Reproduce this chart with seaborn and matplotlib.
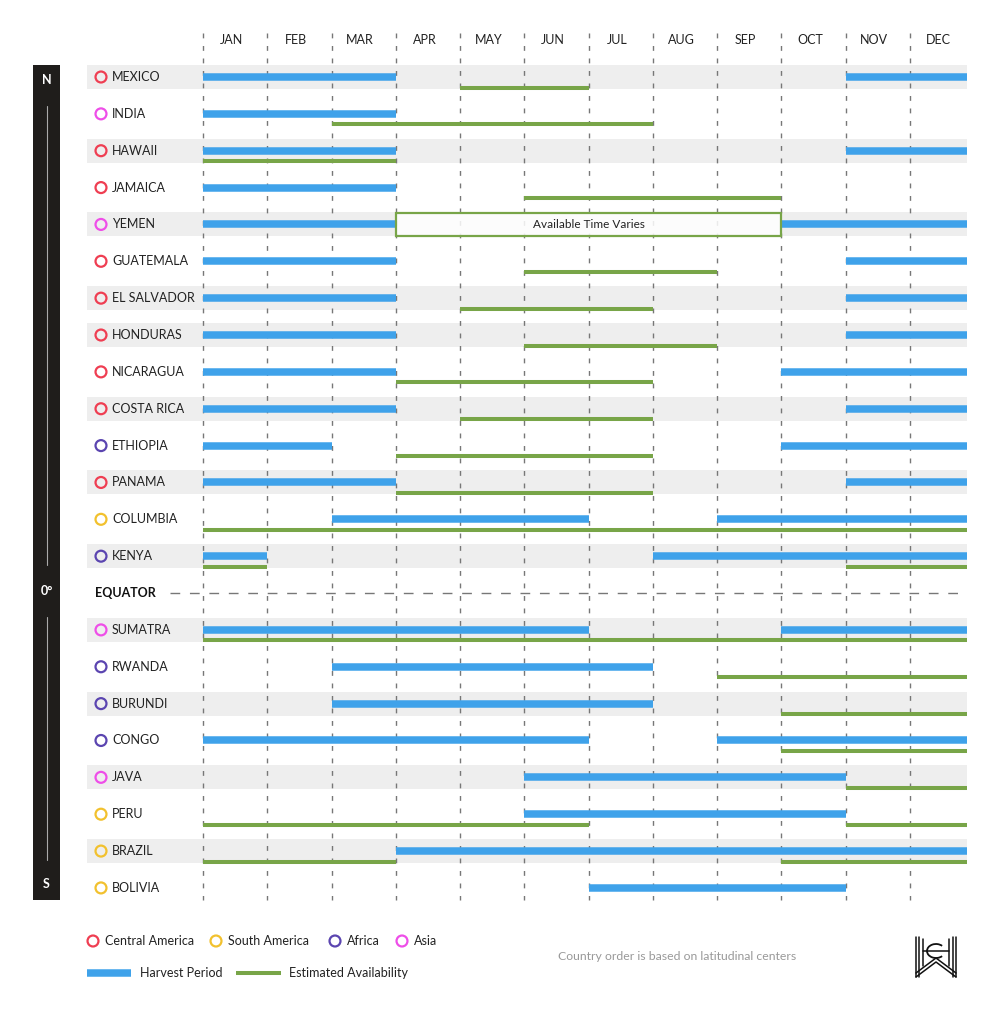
import numpy as np
import pandas as pd
import matplotlib
matplotlib.use("Agg")
import matplotlib.pyplot as plt
import seaborn as sns
from matplotlib.patches import Rectangle, Arc

# ---------------- data ----------------
months = ["JAN", "FEB", "MAR", "APR", "MAY", "JUN", "JUL", "AUG", "SEP", "OCT", "NOV", "DEC"]

north_countries = ["MEXICO", "INDIA", "HAWAII", "JAMAICA", "YEMEN", "GUATEMALA", "EL SALVADOR",
                   "HONDURAS", "NICARAGUA", "COSTA RICA", "ETHIOPIA", "PANAMA", "COLUMBIA", "KENYA"]
south_countries = ["SUMATRA", "RWANDA", "BURUNDI", "CONGO", "JAVA", "PERU", "BRAZIL", "BOLIVIA"]

north_regions = ["Central America", "Asia", "Central America", "Central America", "Asia",
                 "Central America", "Central America", "Central America", "Central America",
                 "Central America", "Africa", "Central America", "South America", "Africa"]
south_regions = ["Asia", "Africa", "Africa", "Africa", "Asia", "South America", "South America",
                 "South America"]

# harvest periods (start month index, end month index), months counted from Jan = 0
north_harvest = [[(0, 3), (10, 12)], [(0, 3)], [(0, 3), (10, 12)], [(0, 3)], [(0, 3), (9, 12)],
                 [(0, 3), (10, 12)], [(0, 3), (10, 12)], [(0, 3), (10, 12)], [(0, 3), (9, 12)],
                 [(0, 3), (10, 12)], [(0, 2), (9, 12)], [(0, 3), (10, 12)], [(2, 6), (8, 12)],
                 [(0, 1), (7, 12)]]
south_harvest = [[(0, 6), (9, 12)], [(2, 7)], [(2, 7)], [(0, 6), (8, 12)], [(5, 10)], [(5, 10)],
                 [(3, 12)], [(6, 10)]]

north_avail = [[(4, 6)], [(2, 7)], [(0, 3)], [(5, 9)], [], [(5, 8)], [(4, 7)], [(5, 8)], [(3, 7)],
               [(4, 7)], [(3, 7)], [(3, 7)], [(0, 12)], [(0, 1), (10, 12)]]
south_avail = [[(0, 12)], [(8, 12)], [(9, 12)], [(9, 12)], [(10, 12)], [(0, 6), (10, 12)],
               [(0, 3), (9, 12)], []]

varies_country = "YEMEN"
varies_period = (3, 9)
varies_text = "Available Time Varies"

grey_rows = ["MEXICO", "HAWAII", "YEMEN", "EL SALVADOR", "HONDURAS", "COSTA RICA", "PANAMA",
             "KENYA", "SUMATRA", "BURUNDI", "JAVA", "BRAZIL"]

region_colors = {"Central America": "#ef3e52", "South America": "#f2c12e",
                 "Africa": "#5b45b0", "Asia": "#ee4ee8"}
region_order = ["Central America", "South America", "Africa", "Asia"]
harvest_color = "#3fa2ea"
avail_color = "#78a548"

# ---------------- layout helpers ----------------
W, H = 1000, 1015
PX_M = 64.27     # pixels per month
X0 = 203         # pixel of Jan start
PX_R = 36.86     # pixels per row
Y0 = 77          # pixel of first row

rows = []
for i, c in enumerate(north_countries):
    rows.append((c, north_regions[i], north_harvest[i], north_avail[i], i))
eq_row = len(north_countries)
for j, c in enumerate(south_countries):
    rows.append((c, south_regions[j], south_harvest[j], south_avail[j], eq_row + 1 + j))

df = pd.DataFrame({"country": [r[0] for r in rows], "region": [r[1] for r in rows],
                   "row": [r[4] for r in rows]})

sns.set_theme(style="white")
plt.rcParams["font.family"] = ["Lato", "DejaVu Sans"]

fig = plt.figure(figsize=(W / 100, H / 100), dpi=100)
fig.patch.set_facecolor("white")

# background axes in pixel coordinates (decor)
bg = fig.add_axes([0, 0, 1, 1], zorder=0)
bg.set_xlim(0, W)
bg.set_ylim(H, 0)
bg.axis("off")

# main axes
ax_l, ax_r, ax_t, ax_b = 87, 967, 25, 905
ax = fig.add_axes([ax_l / W, 1 - ax_b / H, (ax_r - ax_l) / W, (ax_b - ax_t) / H], zorder=1)
ax.patch.set_alpha(0)

band_h = 24 / PX_R
off_green = 10.5 / PX_R
xl = (ax_l - X0) / PX_M

# grey bands
for _, r in df.iterrows():
    if r["country"] in grey_rows:
        ax.add_patch(Rectangle((xl, r["row"] - band_h / 2), 20, band_h,
                               facecolor="#eeeeee", edgecolor="none", zorder=0))

# month dashed separators
y_top = (33 - Y0) / PX_R
y_bot = (900 - Y0) / PX_R
for m in range(12):
    ax.plot([m, m], [y_top, y_bot], color="#777777", lw=1.0,
            linestyle=(0, (3.5, 5.5)), zorder=1)
    ax.text(m + 0.5 - 3.5 / PX_M, (40 - Y0) / PX_R, months[m], ha="center", va="center",
            fontsize=9, color="#222222")

# bars
for c, reg, hv, av, ri in rows:
    for s, e in hv:
        ax.hlines(ri, s, e, color=harvest_color, lw=5.4, zorder=3, capstyle="butt")
    for s, e in av:
        ax.hlines(ri + off_green, s, e, color=avail_color, lw=2.9, zorder=3, capstyle="butt")
    if c == varies_country:
        s, e = varies_period
        ax.add_patch(Rectangle((s, ri - 11.5 / PX_R), e - s, 23 / PX_R, facecolor="white",
                               alpha=0.85, edgecolor="none", zorder=4))
        ax.add_patch(Rectangle((s, ri - 11.5 / PX_R), e - s, 23 / PX_R, facecolor="none",
                               edgecolor=avail_color, lw=1.6, zorder=5))
        ax.text((s + e) / 2, ri, varies_text, ha="center", va="center", fontsize=8.5,
                color="#222222", zorder=6)

# country labels + circles
for _, r in df.iterrows():
    ax.text((112 - X0) / PX_M, r["row"], r["country"], ha="left", va="center",
            fontsize=9, color="#222222")
df["cx"] = (101 - X0) / PX_M
sns.scatterplot(data=df, x="cx", y="row", hue="region", palette=region_colors,
                s=62, linewidth=1.6, legend=False, ax=ax, zorder=4)
pts = ax.collections[-1]
fc = pts.get_facecolors()
pts.set_edgecolors(fc)
pts.set_facecolors("none")
ax.set_xlim((ax_l - X0) / PX_M, (ax_r - X0) / PX_M)
ax.set_ylim((ax_b - Y0) / PX_R, (ax_t - Y0) / PX_R)
ax.axis("off")

# equator
ax.text((95 - X0) / PX_M, eq_row, "EQUATOR", ha="left", va="center", fontsize=9,
        fontweight="bold", color="#111111")
ax.plot([(170 - X0) / PX_M, (960 - X0) / PX_M], [eq_row, eq_row], color="#777777",
        lw=1.0, linestyle=(0, (7, 7)), zorder=2)

# latitude bar
bg.add_patch(Rectangle((33, 65), 27, 835, facecolor="#1f1d1b", edgecolor="none"))
bg.plot([46.5, 46.5], [106, 565], color="#aaaaaa", lw=0.8)
bg.plot([46.5, 46.5], [617, 860], color="#aaaaaa", lw=0.8)
bg.text(46.5, 80, "N", color="white", ha="center", va="center", fontsize=9, fontweight="bold")
bg.text(46.5, 591, "0°", color="white", ha="center", va="center", fontsize=9, fontweight="bold")
bg.text(46.5, 884, "S", color="white", ha="center", va="center", fontsize=9, fontweight="bold")

# legend row 1
leg_x = [93, 216, 335, 402]
for x, reg in zip(leg_x, region_order):
    bg.scatter([x], [941], s=62, facecolors="none", edgecolors=region_colors[reg], linewidths=1.6)
    bg.text(x + 12, 941, reg, ha="left", va="center", fontsize=9, color="#222222")
# legend row 2
bg.plot([87, 131], [973, 973], color=harvest_color, lw=5.4, solid_capstyle="butt")
bg.text(140, 973, "Harvest Period", ha="left", va="center", fontsize=9, color="#222222")
bg.plot([236, 281], [973, 973], color=avail_color, lw=2.9, solid_capstyle="butt")
bg.text(289, 973, "Estimated Availability", ha="left", va="center", fontsize=9, color="#222222")

bg.text(677, 957, "Country order is based on latitudinal centers", ha="center", va="center",
        fontsize=8.8, color="#999999")

# logo
lk = dict(color="#111111", lw=1.1)
for x in [916, 919, 953, 956]:
    bg.plot([x, x], [937, 977], **lk)
bg.plot([916, 936, 956], [977, 962, 977], **lk)
bg.plot([916, 936, 956], [973, 958, 973], **lk)
bg.plot([923, 923], [939, 966], **lk)
bg.plot([949, 949], [939, 966], **lk)
bg.plot([923, 949], [951, 951], **lk)
bg.add_patch(Arc((936, 951), 18, 14, theta1=40, theta2=320, color="#111111", lw=1.3))

fig.savefig("out.png", dpi=100, facecolor="white")
